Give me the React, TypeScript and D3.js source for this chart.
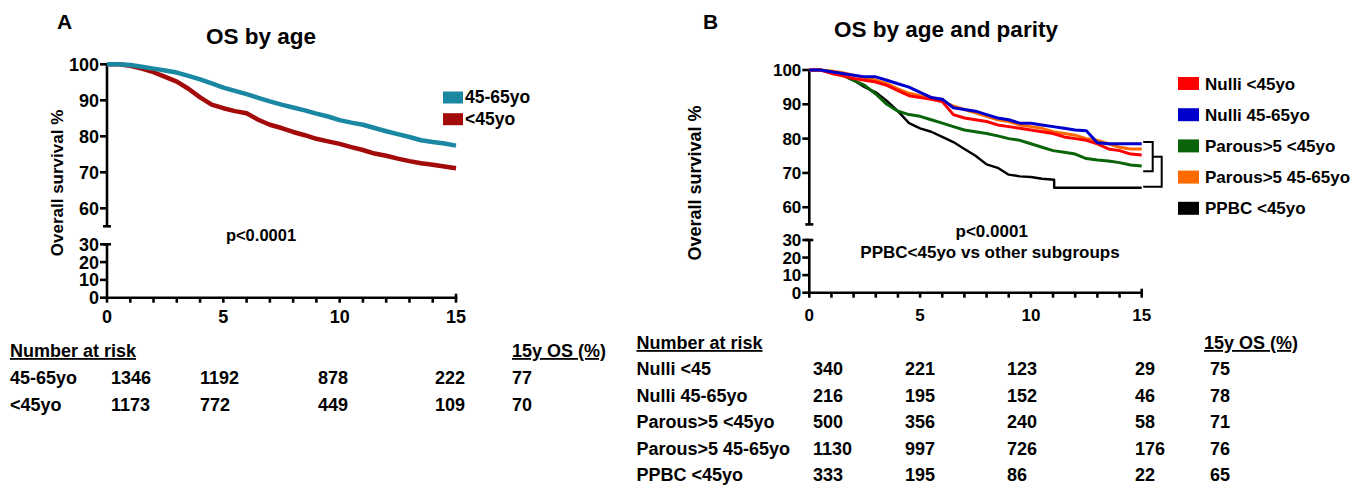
import React from 'react';
import * as d3 from 'd3';

// time grid (years) shared by the curves
const years = [0, 0.5, 1, 1.5, 2, 2.5, 3, 3.5, 4, 4.5, 5, 5.5, 6, 6.5, 7, 7.5, 8, 8.5, 9, 9.5, 10, 10.5, 11, 11.5, 12, 12.5, 13, 13.5, 14, 14.5, 15];

// Panel A - OS by age
const ageLabels = ['45-65yo', '<45yo'];
const ageColors = ['#1a88a2', '#a30a0a'];
const os4565 = [100, 100, 99.8, 99.3, 98.8, 98.3, 97.7, 96.8, 95.8, 94.7, 93.5, 92.6, 91.7, 90.7, 89.7, 88.8, 88, 87.2, 86.3, 85.5, 84.5, 83.8, 83.2, 82.3, 81.4, 80.6, 79.8, 78.9, 78.4, 78, 77.4];
const osUnder45 = [100, 100, 99.6, 98.8, 97.8, 96.5, 95.2, 93.2, 90.8, 88.8, 87.8, 87, 86.4, 84.6, 83.2, 82.3, 81.2, 80.3, 79.3, 78.6, 77.9, 77, 76.2, 75.2, 74.6, 73.8, 73.1, 72.5, 72.1, 71.6, 71.1];

// Panel B - OS by age and parity
const parityLabels = ['Nulli <45yo', 'Nulli 45-65yo', 'Parous>5 <45yo', 'Parous>5 45-65yo', 'PPBC <45yo'];
const parityColors = ['#ff0000', '#0000cc', '#0a640a', '#ff6a00', '#000000'];
const nulliUnder45 = [100, 100, 99, 98.3, 97.5, 97, 96.5, 95.5, 94, 92.5, 92, 91.5, 90.8, 87, 86, 85.5, 85, 84, 83.5, 83, 82.5, 82, 81.5, 80.5, 80, 79.5, 78.5, 77, 76.5, 75.5, 75.2];
const nulli4565 = [100, 100, 99.5, 99, 98.5, 98, 98, 97, 96, 95, 93.5, 92, 91.5, 89, 88.5, 88, 87, 86, 85.5, 84.5, 84.5, 84, 83.5, 83, 82.5, 82.3, 78.8, 78.5, 78.5, 78.5, 78.5];
const parousUnder45 = [100, 100, 99.5, 98.5, 97, 95.5, 93, 90, 88, 87, 86.5, 85.5, 84.5, 83.5, 82.5, 82, 81.5, 80.8, 80, 79.5, 78.5, 77.5, 76.5, 76, 75.5, 74.2, 73.8, 73.5, 73, 72.3, 72];
const parous4565 = [100, 100, 99.7, 99.2, 98.5, 97.8, 97, 96, 94.5, 93.2, 92.5, 92, 91, 89.5, 88.5, 87.5, 86.5, 85.5, 85, 84, 83.5, 83, 82, 81.5, 81, 80, 79.5, 78.5, 77.5, 77, 77];
// PPBC has its own times: a sharp drop just after 11 years, then a plateau
const ppbcYears = [0, 0.5, 1, 1.5, 2, 2.5, 3, 3.5, 4, 4.5, 5, 5.5, 6, 6.5, 7, 7.5, 8, 8.5, 9, 9.5, 10, 10.5, 11.05, 11.05, 15];
const ppbcUnder45 = [100, 100, 99.5, 98.5, 97, 95, 93.5, 91, 88, 84.5, 83, 82, 80.5, 79, 77, 75, 72.5, 71.5, 69.5, 69, 68.8, 68.3, 68, 65.7, 65.7];

// number at risk tables (0, 5, 10, 15 years) and 15y OS
const riskLabelsA = ['45-65yo', '<45yo'];
const riskA4565 = [1346, 1192, 878, 222];
const riskAUnder45 = [1173, 772, 449, 109];
const os15A = [77, 70];

const riskLabelsB = ['Nulli <45', 'Nulli 45-65yo', 'Parous>5 <45yo', 'Parous>5 45-65yo', 'PPBC <45yo'];
const riskNulliUnder45 = [340, 221, 123, 29];
const riskNulli4565 = [216, 195, 152, 46];
const riskParousUnder45 = [500, 356, 240, 58];
const riskParous4565 = [1130, 997, 726, 176];
const riskPpbcUnder45 = [333, 195, 86, 22];
const os15B = [75, 78, 71, 76, 65];

const upperTicks = [60, 70, 80, 90, 100];
const lowerTicks = [0, 10, 20, 30];
const xMinor = [0, 1, 2, 3, 4, 5, 6, 7, 8, 9, 10, 11, 12, 13, 14, 15];
const xMajor = [0, 5, 10, 15];

const FONT = '"Liberation Sans", Arial, Helvetica, sans-serif';

type Scale = d3.ScaleLinear<number, number>;

// broken y axis + x axis in the GraphPad style
const KMAxes = ({ x, yUp, yLow, tickFont, labelY }: { x: Scale; yUp: Scale; yLow: Scale; tickFont: number; labelY: number }) => {
  const x0 = x(0);
  const axisY = yLow(0);
  return (
    <g stroke="#000" strokeWidth={2.6} fontFamily={FONT} fontWeight="bold" fontSize={tickFont}>
      {/* upper segment */}
      <line x1={x0} x2={x0} y1={yUp(100)} y2={yUp(55)} />
      <line x1={x0 - 4} x2={x0 + 4} y1={yUp(55)} y2={yUp(55)} />
      {upperTicks.map((t) => (
        <g key={'u' + t}>
          <line x1={x0 - 7} x2={x0} y1={yUp(t)} y2={yUp(t)} />
          <text x={x0 - 8} y={yUp(t)} dy="0.36em" textAnchor="end" stroke="none" fill="#000">{t}</text>
        </g>
      ))}
      {/* lower segment */}
      <line x1={x0} x2={x0} y1={yLow(0)} y2={yLow(30)} />
      <line x1={x0 - 4} x2={x0 + 4} y1={yLow(30)} y2={yLow(30)} />
      {lowerTicks.map((t) => (
        <g key={'l' + t}>
          <line x1={x0 - 7} x2={x0} y1={yLow(t)} y2={yLow(t)} />
          <text x={x0 - 8} y={yLow(t)} dy="0.36em" textAnchor="end" stroke="none" fill="#000">{t}</text>
        </g>
      ))}
      {/* x axis */}
      <line x1={x0 - 1.3} x2={x(15) + 1.3} y1={axisY} y2={axisY} />
      {xMinor.map((t) => (
        <line key={'x' + t} x1={x(t)} x2={x(t)} y1={axisY} y2={axisY + 5} />
      ))}
      <line x1={x(15)} x2={x(15)} y1={axisY - 4} y2={axisY} />
      {xMajor.map((t) => (
        <text key={'xl' + t} x={x(t)} y={labelY} textAnchor="middle" stroke="none" fill="#000">{t}</text>
      ))}
    </g>
  );
};

const survLine = (x: Scale, y: Scale, times: number[]) =>
  d3.line<number>()
    .x((_, i) => x(times[i]))
    .y((d) => y(d));

const RiskTable = ({ x0, cols, osX, osShift, headY, rowY, labels, rows, os }: { x0: number; cols: number[]; osX: number; osShift: number; headY: number; rowY: number[]; labels: string[]; rows: number[][]; os: number[] }) => (
  <g fontFamily={FONT} fontWeight="bold" fontSize={18} fill="#000">
    <text x={x0} y={headY} textDecoration="underline">Number at risk</text>
    <text x={osX} y={headY} textDecoration="underline">15y OS (%)</text>
    {labels.map((lab, i) => (
      <g key={lab}>
        <text x={x0} y={rowY[i]}>{lab}</text>
        {rows[i].map((v, j) => (
          <text key={j} x={cols[j]} y={rowY[i]}>{v}</text>
        ))}
        <text x={osX + osShift} y={rowY[i]}>{os[i]}</text>
      </g>
    ))}
  </g>
);

const App = () => {
  // Panel A scales
  const xA = d3.scaleLinear().domain([0, 15]).range([107, 456]);
  const yUpA = d3.scaleLinear().domain([55, 100]).range([226.3, 64.3]);
  const yLowA = d3.scaleLinear().domain([0, 30]).range([297.7, 244.3]);
  const lineA = survLine(xA, yUpA, years);

  // Panel B scales
  const xB = d3.scaleLinear().domain([0, 15]).range([809.3, 1141.7]);
  const yUpB = d3.scaleLinear().domain([55, 100]).range([224.4, 70]);
  const yLowB = d3.scaleLinear().domain([0, 30]).range([292.7, 240]);
  const lineB = survLine(xB, yUpB, years);
  const linePpbc = survLine(xB, yUpB, ppbcYears);

  const seriesA = [osUnder45, os4565];
  const colorsA = [ageColors[1], ageColors[0]];
  // draw order: black, green, orange, red, blue
  const orderB = [4, 2, 3, 0, 1];
  const seriesB = [nulliUnder45, nulli4565, parousUnder45, parous4565, ppbcUnder45];

  const bx = xB(15);
  return (
    <div>
      <style>{'body{margin:0}'}</style>
      <svg width={1369} height={493} style={{ display: 'block', background: '#fff' }}>
        {/* ---------- Panel A ---------- */}
        <text x={57} y={28.5} fontFamily={FONT} fontWeight="bold" fontSize={21}>A</text>
        <text x={261} y={43.5} textAnchor="middle" fontFamily={FONT} fontWeight="bold" fontSize={22.5}>OS by age</text>
        <text transform={`translate(63,183) rotate(-90)`} textAnchor="middle" fontFamily={FONT} fontWeight="bold" fontSize={17}>Overall survival %</text>
        <KMAxes x={xA} yUp={yUpA} yLow={yLowA} tickFont={18} labelY={323} />
        {seriesA.map((s, i) => (
          <path key={i} d={lineA(s) || ''} fill="none" stroke={colorsA[i]} strokeWidth={4.5} strokeLinejoin="round" />
        ))}
        <text x={261} y={240.5} textAnchor="middle" fontFamily={FONT} fontWeight="bold" fontSize={16.5}>p&lt;0.0001</text>
        {ageLabels.map((lab, i) => (
          <g key={lab}>
            <rect x={443} y={91.5 + i * 21.7} width={20} height={12} fill={ageColors[i]} />
            <text x={465} y={103 + i * 21.7} fontFamily={FONT} fontWeight="bold" fontSize={17.5}>{lab}</text>
          </g>
        ))}
        <RiskTable
          x0={10}
          cols={[111, 200, 318, 435]}
          osX={512}
          osShift={0}
          headY={357}
          rowY={[383.5, 411]}
          labels={riskLabelsA}
          rows={[riskA4565, riskAUnder45]}
          os={os15A}
        />

        {/* ---------- Panel B ---------- */}
        <text x={703} y={28.5} fontFamily={FONT} fontWeight="bold" fontSize={21}>B</text>
        <text x={946} y={36.7} textAnchor="middle" fontFamily={FONT} fontWeight="bold" fontSize={22.5}>OS by age and parity</text>
        <text transform={`translate(701,183) rotate(-90)`} textAnchor="middle" fontFamily={FONT} fontWeight="bold" fontSize={18}>Overall survival %</text>
        <KMAxes x={xB} yUp={yUpB} yLow={yLowB} tickFont={17} labelY={321} />
        {orderB.map((k) => (
          <path
            key={k}
            d={(k === 4 ? linePpbc : lineB)(seriesB[k]) || ''}
            fill="none"
            stroke={parityColors[k]}
            strokeWidth={k === 4 ? 2.4 : 3}
            strokeLinejoin="round"
          />
        ))}
        {/* brackets */}
        <g fill="none" stroke="#000" strokeWidth={2}>
          <polyline points={`${bx + 1.5},${yUpB(79)} ${bx + 11},${yUpB(79)} ${bx + 11},${yUpB(70.5)} ${bx + 1.5},${yUpB(70.5)}`} />
          <polyline points={`${bx + 11},${yUpB(74.7)} ${bx + 20},${yUpB(74.7)} ${bx + 20},${yUpB(66)} ${bx + 1.5},${yUpB(66)}`} />
        </g>
        <text x={991.7} y={236.7} textAnchor="middle" fontFamily={FONT} fontWeight="bold" fontSize={17}>p&lt;0.0001</text>
        <text x={990} y={258.3} textAnchor="middle" fontFamily={FONT} fontWeight="bold" fontSize={17}>PPBC&lt;45yo vs other subgroups</text>
        {parityLabels.map((lab, i) => (
          <g key={lab}>
            <rect x={1178} y={77 + i * 31.2} width={21} height={13} fill={parityColors[i]} />
            <text x={1205} y={89.5 + i * 31.2} fontFamily={FONT} fontWeight="bold" fontSize={17}>{lab}</text>
          </g>
        ))}
        <RiskTable
          x0={636.5}
          cols={[813, 905, 1007, 1135]}
          osX={1204}
          osShift={6}
          headY={349}
          rowY={[375, 401.5, 428, 454.5, 481]}
          labels={riskLabelsB}
          rows={[riskNulliUnder45, riskNulli4565, riskParousUnder45, riskParous4565, riskPpbcUnder45]}
          os={os15B}
        />
      </svg>
    </div>
  );
};

export default App;
